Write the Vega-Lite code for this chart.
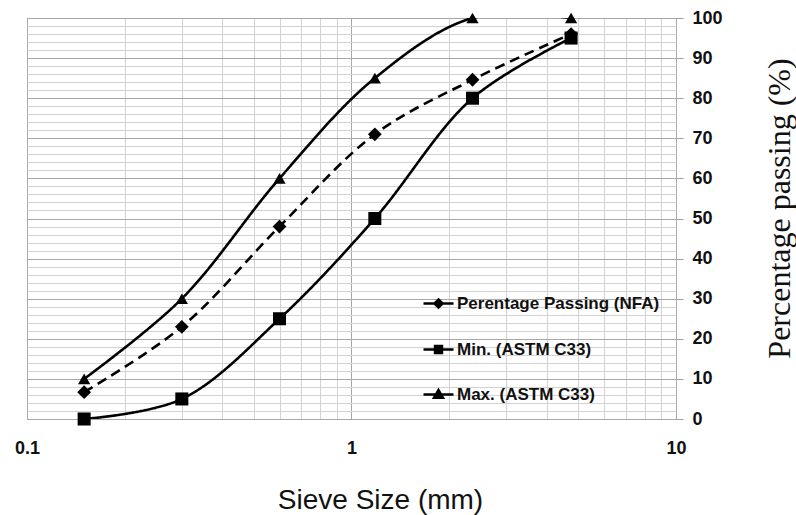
{
  "$schema": "https://vega.github.io/schema/vega-lite/v6.json",
  "autosize": {"type": "none"},
  "width": 649,
  "height": 401,
  "padding": {"left": 27, "top": 18, "right": 120, "bottom": 96},
  "background": "white",
  "config": {
    "view": {"stroke": "#b0b0b0", "strokeWidth": 1},
    "axis": {"labelColor": "#111", "titleColor": "#111"}
  },
  "data": {
    "values": [
      {"size": 0.15, "pct": 6.7, "series": "Perentage Passing (NFA)"},
      {"size": 0.3, "pct": 23, "series": "Perentage Passing (NFA)"},
      {"size": 0.6, "pct": 48, "series": "Perentage Passing (NFA)"},
      {"size": 1.18, "pct": 71, "series": "Perentage Passing (NFA)"},
      {"size": 2.36, "pct": 84.6, "series": "Perentage Passing (NFA)"},
      {"size": 4.75, "pct": 96, "series": "Perentage Passing (NFA)"},
      {"size": 0.15, "pct": 0, "series": "Min. (ASTM C33)"},
      {"size": 0.3, "pct": 5, "series": "Min. (ASTM C33)"},
      {"size": 0.6, "pct": 25, "series": "Min. (ASTM C33)"},
      {"size": 1.18, "pct": 50, "series": "Min. (ASTM C33)"},
      {"size": 2.36, "pct": 80, "series": "Min. (ASTM C33)"},
      {"size": 4.75, "pct": 95, "series": "Min. (ASTM C33)"},
      {"size": 0.15, "pct": 10, "series": "Max. (ASTM C33)"},
      {"size": 0.3, "pct": 30, "series": "Max. (ASTM C33)"},
      {"size": 0.6, "pct": 60, "series": "Max. (ASTM C33)"},
      {"size": 1.18, "pct": 85, "series": "Max. (ASTM C33)"},
      {"size": 2.36, "pct": 100, "series": "Max. (ASTM C33)"},
      {"size": 4.75, "pct": 100, "series": "Max. (ASTM C33)"}
    ]
  },
  "encoding": {
    "x": {
      "field": "size", "type": "quantitative",
      "scale": {"type": "log", "domain": [0.1, 10]},
      "title": "Sieve Size (mm)",
      "axis": {
        "orient": "bottom",
        "values": [0.1, 0.2, 0.3, 0.4, 0.5, 0.6, 0.7, 0.8, 0.9, 1, 2, 3, 4, 5, 6, 7, 8, 9, 10],
        "labelExpr": "datum.value == 0.1 || datum.value == 1 || datum.value == 10 ? datum.label : ''",
        "grid": true,
        "gridColor": {"condition": {"test": "datum.value == 0.1 || datum.value == 1 || datum.value == 10", "value": "#a8a8a8"}, "value": "#d2d2d2"},
        "ticks": false, "tickSize": 0, "domain": false,
        "labelFlush": false, "labelOverlap": false, "labelPadding": 20, "format": "~g",
        "labelFont": "Liberation Sans", "labelFontWeight": "bold", "labelFontSize": 18,
        "titleFont": "Liberation Sans", "titleFontWeight": "normal", "titleFontSize": 28,
        "titleX": 353, "titleY": 89, "titleBaseline": "alphabetic", "titleAnchor": null
      }
    },
    "y": {
      "field": "pct", "type": "quantitative",
      "scale": {"domain": [0, 100], "nice": false},
      "title": "Percentage passing (%)",
      "axis": {
        "orient": "right",
        "values": [0, 2, 4, 6, 8, 10, 12, 14, 16, 18, 20, 22, 24, 26, 28, 30, 32, 34, 36, 38, 40, 42, 44, 46, 48, 50, 52, 54, 56, 58, 60, 62, 64, 66, 68, 70, 72, 74, 76, 78, 80, 82, 84, 86, 88, 90, 92, 94, 96, 98, 100],
        "labelExpr": "datum.value % 10 == 0 ? datum.label : ''",
        "grid": true,
        "gridColor": {"condition": {"test": "datum.value % 10 == 0", "value": "#a8a8a8"}, "value": "#d2d2d2"},
        "domain": false,
        "ticks": true, "tickSize": 7,
        "tickColor": {"condition": {"test": "datum.value % 10 == 0", "value": "#a0a0a0"}, "value": "transparent"},
        "labelPadding": 9, "labelFlush": false, "labelOverlap": false,
        "labelFont": "Liberation Sans", "labelFontWeight": "bold", "labelFontSize": 18,
        "titleFont": "Liberation Serif", "titleFontWeight": "normal", "titleFontSize": 32,
        "titleAngle": 270, "titleX": 103, "titleY": 190, "titleAlign": "center", "titleBaseline": "middle"
      }
    }
  },
  "resolve": {"scale": {"shape": "independent", "size": "independent"}, "legend": {"shape": "independent"}},
  "layer": [
    {
      "mark": {"type": "line", "interpolate": "catmull-rom", "clip": true, "color": "#000", "strokeWidth": 2.6},
      "encoding": {
        "detail": {"field": "series"},
        "strokeDash": {
          "field": "series",
          "scale": {"domain": ["Perentage Passing (NFA)", "Min. (ASTM C33)", "Max. (ASTM C33)"], "range": [[10, 6], [1, 0], [1, 0]]},
          "legend": null
        }
      }
    },
    {
      "mark": {"type": "point", "filled": true, "color": "#000", "opacity": 1, "clip": false},
      "encoding": {
        "shape": {
          "field": "series",
          "scale": {"domain": ["Perentage Passing (NFA)", "Min. (ASTM C33)", "Max. (ASTM C33)"], "range": ["diamond", "square", "triangle-up"]},
          "legend": null
        },
        "size": {
          "field": "series",
          "scale": {"domain": ["Perentage Passing (NFA)", "Min. (ASTM C33)", "Max. (ASTM C33)"], "range": [190, 150, 150]},
          "legend": null
        }
      }
    },
    {
      "mark": {"type": "point", "filled": false, "color": "#000", "opacity": 0, "strokeWidth": 2.5, "size": 900},
      "encoding": {
        "shape": {
          "field": "series",
          "scale": {
            "domain": ["Perentage Passing (NFA)", "Min. (ASTM C33)", "Max. (ASTM C33)"],
            "range": [
              "M-1,0H1M0,-0.27L0.27,0L0,0.27L-0.27,0ZM0,-0.12L0.12,0L0,0.12L-0.12,0Z",
              "M-1,0H1M-0.23,-0.23H0.23V0.23H-0.23ZM-0.09,-0.09H0.09V0.09H-0.09Z",
              "M-1,0H1M0,-0.3L0.3,0.22L-0.3,0.22ZM0,-0.1L0.1,0.1L-0.1,0.1Z"
            ]
          },
          "legend": {
            "orient": "none", "legendX": 395, "legendY": 269, "title": null, "padding": 0,
            "rowPadding": 20, "labelOffset": 2, "symbolSize": 900,
            "symbolStrokeColor": "#000", "symbolStrokeWidth": 2.5, "symbolOpacity": 1,
            "labelFont": "Liberation Sans", "labelFontWeight": "bold", "labelFontSize": 17, "labelColor": "#111",
            "labelLimit": 400
          }
        }
      }
    }
  ]
}
